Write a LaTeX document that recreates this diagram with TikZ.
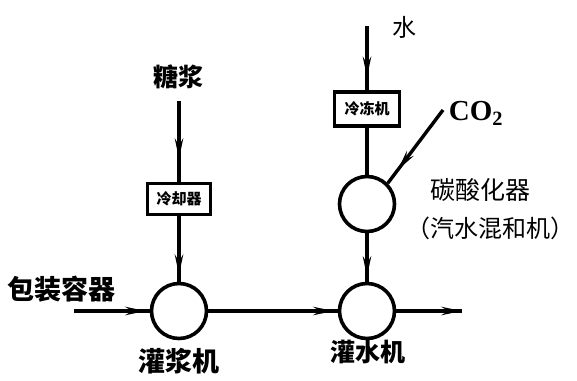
\documentclass[tikz,border=0pt]{standalone}
\usepackage{fontspec}
\setmainfont{Liberation Serif}
\newfontfamily\cjk{Noto Sans CJK SC}
\usetikzlibrary{arrows.meta,decorations.markings}
\begin{document}
\begin{tikzpicture}[x=1pt,y=-1pt,
  line width=3.4pt,
  lblb/.style={font=\cjk\bfseries\fontsize{#1}{#1}\selectfont, inner sep=0pt},
  lblr/.style={font=\cjk\fontsize{#1}{#1}\selectfont, inner sep=0pt},
  dev/.style={draw, line width=3.6pt, minimum width=63pt, minimum height=31pt, inner sep=0pt, font=\cjk\bfseries\fontsize{15}{15}\selectfont},
  unit/.style={draw, circle, line width=3.6pt, minimum size=55pt, inner sep=0pt},
  flow/.style={line width=3.4pt, postaction={decorate}, decoration={markings, mark=at position #1 with {\arrow{Stealth[length=20pt,width=8pt]}}}},
  flow/.default=0.6
]
\useasboundingbox (0,0) rectangle (577,380);
% nodes
\node[dev] (cool) at (179,199) {冷却器};
\node[dev, minimum width=65pt, minimum height=34pt] (freeze) at (367,109) {冷冻机};
\node[unit] (carb) at (367,204) {};
\node[unit] (f1) at (179,311) {};
\node[unit] (f2) at (367,311) {};
% labels
\node[lblb=25] (syr) at (178,77) {糖浆};
\node[lblr=24] (water) at (404,27) {水};
\node[font=\bfseries\fontsize{29}{29}\selectfont, inner sep=0pt] (co2) at (476,113) {CO\textsubscript{2}};
\node[lblr=25] (carbname) at (480,190) {碳酸化器};
\node[lblr=24] (carbname2) at (490,228) {（汽水混和机）};
\node[lblb=27, anchor=west] (pkg) at (6,289) {包装容器};
\node[lblb=27] (n1) at (179,361) {灌浆机};
\node[lblb=25] (n2) at (368,352) {灌水机};
% free ends
\coordinate (s0) at (179,101);
\coordinate (w0) at (367,26);
\coordinate (c0) at (443,110);
\coordinate (p0) at (74,311);
\coordinate (out) at (462,311);
% connectors
\draw[flow=0.72] (s0) -- (cool.north);
\draw[flow=0.9] (cool.south) -- (f1.north);
\draw[flow=0.8] (w0) -- (freeze.north);
\draw (freeze.south) -- (carb.north);
\draw[flow=0.9] (carb.south) -- (f2.north);
\draw[flow=0.82] (c0) -- (carb.north east);
\draw[flow=0.95] (p0) -- (f1.west);
\draw[flow=0.97] (f1.east) -- (f2.west);
\draw[flow=1] (f2.east) -- (out);
\end{tikzpicture}
\end{document}
